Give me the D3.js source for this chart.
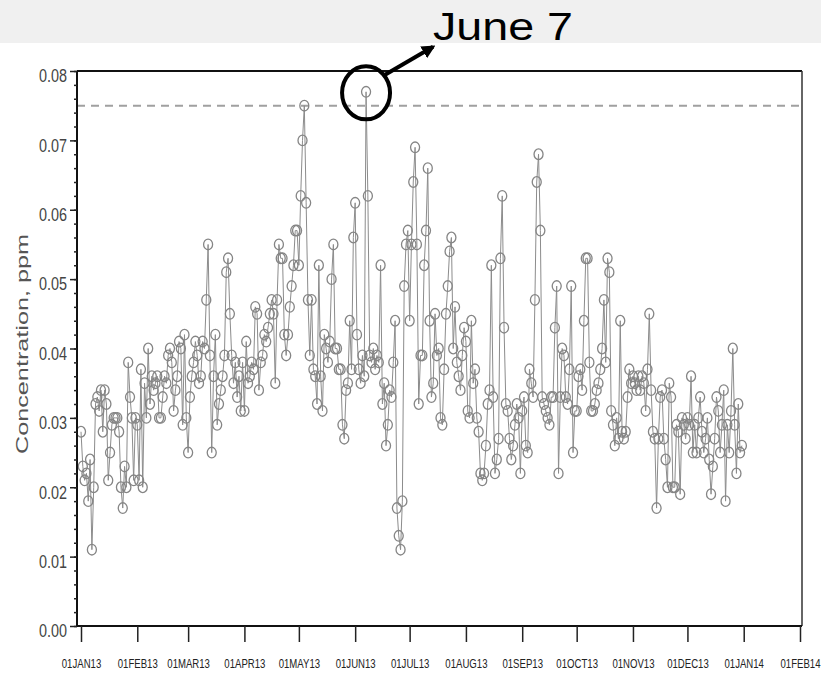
<!DOCTYPE html>
<html>
<head>
<meta charset="utf-8">
<script src="https://cdn.jsdelivr.net/npm/d3@7"></script>
<style>
body { margin: 0; background: #fff; }
svg { display: block; font-family: "Liberation Sans", Arial, sans-serif; }
</style>
</head>
<body>
<div id="chart"></div>
<script>
// daily max ozone, ppm, one array per month of 2013
const jan = [0.028, 0.023, 0.021, 0.022, 0.018, 0.024, 0.011, 0.020, 0.032, 0.033, 0.031, 0.034, 0.028, 0.034, 0.032, 0.021, 0.025, 0.029, 0.030, 0.030, 0.030, 0.028, 0.020, 0.017, 0.023, 0.020, 0.038, 0.033, 0.030, 0.021, 0.030];
const feb = [0.029, 0.021, 0.037, 0.020, 0.035, 0.030, 0.040, 0.032, 0.036, 0.034, 0.035, 0.036, 0.030, 0.030, 0.033, 0.036, 0.035, 0.039, 0.040, 0.038, 0.031, 0.034, 0.036, 0.041, 0.040, 0.029, 0.042, 0.030];
const mar = [0.025, 0.033, 0.036, 0.038, 0.041, 0.039, 0.035, 0.036, 0.041, 0.040, 0.047, 0.055, 0.039, 0.025, 0.036, 0.042, 0.029, 0.032, 0.034, 0.036, 0.039, 0.051, 0.053, 0.045, 0.039, 0.035, 0.038, 0.033, 0.036, 0.031, 0.038];
const apr = [0.031, 0.041, 0.035, 0.036, 0.038, 0.037, 0.046, 0.045, 0.034, 0.038, 0.039, 0.042, 0.041, 0.043, 0.045, 0.047, 0.045, 0.035, 0.047, 0.055, 0.053, 0.053, 0.042, 0.039, 0.042, 0.046, 0.049, 0.052, 0.057, 0.057];
const may = [0.052, 0.062, 0.070, 0.075, 0.061, 0.047, 0.039, 0.047, 0.037, 0.036, 0.032, 0.052, 0.036, 0.031, 0.042, 0.040, 0.038, 0.041, 0.050, 0.055, 0.040, 0.040, 0.037, 0.037, 0.029, 0.027, 0.034, 0.035, 0.044, 0.037, 0.056];
const jun = [0.061, 0.042, 0.037, 0.035, 0.039, 0.036, 0.077, 0.062, 0.039, 0.038, 0.040, 0.037, 0.039, 0.038, 0.052, 0.032, 0.035, 0.026, 0.029, 0.034, 0.033, 0.038, 0.044, 0.017, 0.013, 0.011, 0.018, 0.049, 0.055, 0.057];
const jul = [0.044, 0.055, 0.064, 0.069, 0.055, 0.032, 0.039, 0.039, 0.052, 0.057, 0.066, 0.044, 0.033, 0.035, 0.045, 0.039, 0.040, 0.030, 0.029, 0.037, 0.045, 0.049, 0.054, 0.056, 0.040, 0.046, 0.038, 0.036, 0.034, 0.039, 0.043];
const aug = [0.041, 0.031, 0.030, 0.044, 0.035, 0.037, 0.030, 0.028, 0.022, 0.021, 0.022, 0.026, 0.032, 0.034, 0.052, 0.033, 0.022, 0.024, 0.027, 0.053, 0.062, 0.043, 0.032, 0.031, 0.027, 0.024, 0.026, 0.029, 0.032, 0.030, 0.022];
const sep = [0.031, 0.033, 0.026, 0.025, 0.037, 0.035, 0.033, 0.047, 0.064, 0.068, 0.057, 0.033, 0.032, 0.031, 0.030, 0.029, 0.033, 0.033, 0.043, 0.049, 0.022, 0.033, 0.040, 0.039, 0.033, 0.032, 0.037, 0.049, 0.025, 0.031];
const oct = [0.031, 0.036, 0.037, 0.034, 0.044, 0.053, 0.053, 0.038, 0.031, 0.031, 0.032, 0.034, 0.035, 0.037, 0.040, 0.047, 0.038, 0.053, 0.051, 0.031, 0.029, 0.026, 0.030, 0.027, 0.044, 0.028, 0.027, 0.028, 0.033, 0.037, 0.035];
const nov = [0.036, 0.035, 0.034, 0.036, 0.034, 0.036, 0.035, 0.031, 0.037, 0.045, 0.034, 0.028, 0.027, 0.017, 0.027, 0.033, 0.034, 0.027, 0.024, 0.020, 0.035, 0.033, 0.020, 0.020, 0.029, 0.028, 0.019, 0.030, 0.029, 0.027];
const dec = [0.030, 0.029, 0.036, 0.025, 0.029, 0.025, 0.030, 0.033, 0.028, 0.025, 0.027, 0.030, 0.024, 0.019, 0.023, 0.027, 0.033, 0.031, 0.025, 0.029, 0.034, 0.018, 0.029, 0.025, 0.031, 0.040, 0.029, 0.022, 0.032, 0.025, 0.026];

const yTicks = [0, 0.01, 0.02, 0.03, 0.04, 0.05, 0.06, 0.07, 0.08];
const standardLevel = 0.075;
const yTitle = "Concentration, ppm";
const peakLabel = "June 7";

const ozone = [jan, feb, mar, apr, may, jun, jul, aug, sep, oct, nov, dec].flat();
const data = ozone.map((v, i) => ({ date: new Date(Date.UTC(2013, 0, 1 + i)), value: v }));

const width = 821, height = 673;
const frame = { left: 77, right: 802, top: 71, bottom: 626 };

const svg = d3.select("#chart").append("svg")
    .attr("width", width)
    .attr("height", height);

// grey band at the top
svg.append("rect")
    .attr("x", 0).attr("y", 0)
    .attr("width", width).attr("height", 43)
    .attr("fill", "#f0f0f0");

const x = d3.scaleUtc()
    .domain([new Date(Date.UTC(2013, 0, 1)), new Date(Date.UTC(2014, 1, 1))])
    .range([81, 800]);

const y = d3.scaleLinear()
    .domain([0, 0.08])
    .range([frame.bottom, frame.top]);

// reference line
svg.append("line")
    .attr("x1", frame.left).attr("x2", frame.right)
    .attr("y1", y(standardLevel)).attr("y2", y(standardLevel))
    .attr("stroke", "#a0a0a0")
    .attr("stroke-width", 2)
    .attr("stroke-dasharray", "8,6");

// series
const line = d3.line()
    .x(d => x(d.date))
    .y(d => y(d.value));

svg.append("path")
    .datum(data)
    .attr("d", line)
    .attr("fill", "none")
    .attr("stroke", "#8c8c8c")
    .attr("stroke-width", 1);

svg.append("g")
    .selectAll("ellipse")
    .data(data)
    .enter().append("ellipse")
        .attr("cx", d => x(d.date))
        .attr("cy", d => y(d.value))
        .attr("rx", 4.5)
        .attr("ry", 5.3)
        .attr("fill", "none")
        .attr("stroke", "#858585")
        .attr("stroke-width", 1.3);

// frame
svg.append("line")
    .attr("x1", frame.left).attr("x2", frame.right)
    .attr("y1", frame.top).attr("y2", frame.top)
    .attr("stroke", "#111").attr("stroke-width", 2);
svg.append("line")
    .attr("x1", frame.right).attr("x2", frame.right)
    .attr("y1", frame.top).attr("y2", frame.bottom)
    .attr("stroke", "#333").attr("stroke-width", 1.5);
svg.append("line")
    .attr("x1", frame.left).attr("x2", frame.right)
    .attr("y1", frame.bottom).attr("y2", frame.bottom)
    .attr("stroke", "#111").attr("stroke-width", 2);
svg.append("line")
    .attr("x1", frame.left).attr("x2", frame.left)
    .attr("y1", frame.top).attr("y2", frame.bottom)
    .attr("stroke", "#111").attr("stroke-width", 2);

// y axis, minor ticks first
const minorTicks = d3.range(0, 0.0801, 0.002);
svg.append("g")
    .attr("transform", `translate(${frame.left},0)`)
    .call(d3.axisLeft(y).tickValues(minorTicks).tickSize(3).tickFormat(""))
    .call(g => g.select(".domain").remove())
    .call(g => g.selectAll(".tick line").attr("stroke", "#222").attr("stroke-width", 1.5));

const yAxis = svg.append("g")
    .attr("transform", `translate(${frame.left},0)`)
    .call(d3.axisLeft(y).tickValues(yTicks).tickSize(7).tickPadding(3).tickFormat(d3.format(".2f")))
    .call(g => g.select(".domain").remove());
yAxis.selectAll(".tick line").attr("stroke", "#222").attr("stroke-width", 1.5);
yAxis.selectAll(".tick text")
    .attr("fill", "#444")
    .attr("y", 5)
    .style("font-size", "18px")
    .style("font-family", "'Liberation Sans', Arial, sans-serif")
    .attr("textLength", 28)
    .attr("lengthAdjust", "spacingAndGlyphs");

// x axis, labels squeezed horizontally like the original
const monthTicks = d3.utcMonths(new Date(Date.UTC(2013, 0, 1)), new Date(Date.UTC(2014, 1, 2)));
const fmt = d3.utcFormat("%d%b%y");
const xAxis = svg.append("g")
    .attr("transform", `translate(0,${frame.bottom})`)
    .call(d3.axisBottom(x).tickValues(monthTicks).tickSize(16).tickFormat(d => fmt(d).toUpperCase()))
    .call(g => g.select(".domain").remove());
xAxis.selectAll(".tick line").attr("stroke", "#222").attr("stroke-width", 1.5);
xAxis.selectAll(".tick text")
    .attr("fill", "#222")
    .attr("y", 33)
    .attr("transform", "scale(0.8,1)")
    .style("font-size", "12px")
    .style("font-family", "'Liberation Sans', Arial, sans-serif");

// y title
svg.append("text")
    .attr("transform", "translate(28,344) rotate(-90)")
    .attr("text-anchor", "middle")
    .attr("fill", "#555")
    .style("font-size", "17px")
    .attr("textLength", 220)
    .attr("lengthAdjust", "spacingAndGlyphs")
    .text(yTitle);

// peak annotation
const peak = data.reduce((a, b) => (b.value > a.value ? b : a));
const px = x(peak.date), py = y(peak.value) + 1;

svg.append("ellipse")
    .attr("cx", px).attr("cy", py)
    .attr("rx", 24).attr("ry", 26.5)
    .attr("fill", "none")
    .attr("stroke", "#000")
    .attr("stroke-width", 4);

svg.append("defs").append("marker")
    .attr("id", "arrow")
    .attr("viewBox", "0 0 10 10")
    .attr("refX", 8).attr("refY", 5)
    .attr("markerWidth", 3.4).attr("markerHeight", 3.4)
    .attr("orient", "auto")
  .append("path")
    .attr("d", "M0,0L10,5L0,10z")
    .attr("fill", "#000");

svg.append("line")
    .attr("x1", px + 19).attr("y1", py - 18)
    .attr("x2", px + 67).attr("y2", py - 46)
    .attr("stroke", "#000")
    .attr("stroke-width", 4)
    .attr("marker-end", "url(#arrow)");

svg.append("text")
    .attr("x", 433).attr("y", 40)
    .attr("fill", "#000")
    .style("font-size", "38px")
    .attr("textLength", 140)
    .attr("lengthAdjust", "spacingAndGlyphs")
    .text(peakLabel);
</script>
</body>
</html>
